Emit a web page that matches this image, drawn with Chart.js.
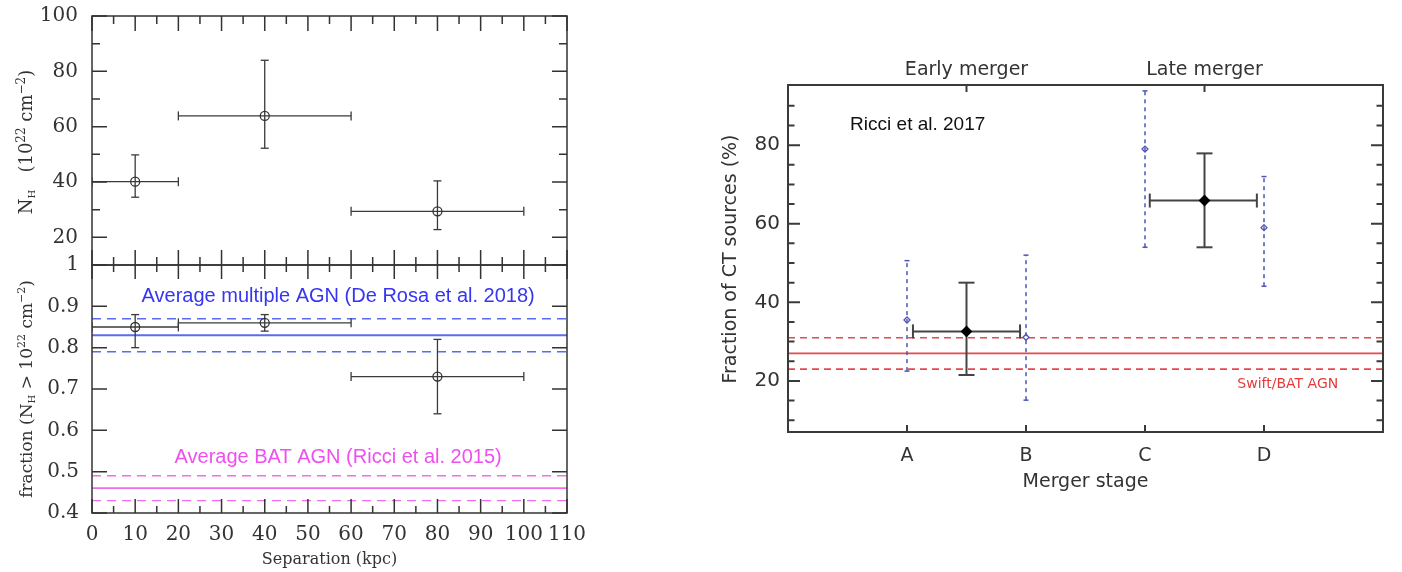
<!DOCTYPE html>
<html>
<head>
<meta charset="utf-8">
<script src="https://cdn.jsdelivr.net/npm/chart.js@4.4.1/dist/chart.umd.min.js"></script>
<style>
  body { margin: 0; background: #fff; }
  #wrap { position: relative; width: 1402px; height: 572px; overflow: hidden; }
  canvas { position: absolute; }
</style>
</head>
<body>
<div id="wrap">
  <canvas id="nh" width="600" height="309" style="left:0;top:-14px"></canvas>
  <canvas id="frac" width="600" height="347" style="left:0;top:225px"></canvas>
  <canvas id="merger" width="712" height="532" style="left:690px;top:40px"></canvas>
</div>
<script>
// separation bins (kpc)
const sepCentre = [10, 40, 80];
const sepLow = [0, 20, 60];
const sepHigh = [20, 60, 100];
// N_H in 1e22 cm^-2
const nhMean = [40.1, 63.9, 29.4];
const nhLow = [34.5, 52.2, 22.8];
const nhHigh = [49.8, 84.0, 40.4];
// fraction with N_H > 1e22
const fracMean = [0.85, 0.86, 0.73];
const fracLow = [0.80, 0.84, 0.64];
const fracHigh = [0.88, 0.88, 0.82];
// reference levels [lower, mean, upper]
const multipleAgn = [0.79, 0.83, 0.87];
const batAgn = [0.43, 0.46, 0.49];

const sepTicks = [0, 10, 20, 30, 40, 50, 60, 70, 80, 90, 100, 110];
const sepMinor = [5, 15, 25, 35, 45, 55, 65, 75, 85, 95, 105];
const nhTicks = [20, 40, 60, 80, 100];
const nhMinor = [30, 50, 70, 90];
const fracTicks = [0.4, 0.5, 0.6, 0.7, 0.8, 0.9, 1.0];
const fracTickLabels = ['0.4', '0.5', '0.6', '0.7', '0.8', '0.9', '1'];

// Ricci et al. 2017 merger stages
const stages = ['A', 'B', 'C', 'D'];
const stagePos = [1, 2, 3, 4];
const ctFrac = [35.5, 31.1, 79.0, 59.0];
const ctLow = [22.5, 15.1, 54.0, 44.1];
const ctHigh = [50.6, 52.0, 93.8, 72.0];
const groups = ['Early merger', 'Late merger'];
const groupPos = [1.5, 3.5];
const groupStart = [1.05, 3.04];
const groupEnd = [1.95, 3.94];
const groupFrac = [32.6, 65.9];
const groupLow = [21.5, 54.0];
const groupHigh = [45.0, 77.9];
const swiftBat = [23, 27, 31];
const ctTicks = [20, 40, 60, 80];
const ctMinor = [10, 15, 25, 30, 35, 45, 50, 55, 65, 70, 75, 85, 90];

function vBars(xs, lo, hi, st) {
  return xs.map((x, i) => ({
    data: [{x: x, y: lo[i]}, {x: x, y: hi[i]}],
    showLine: true, borderColor: st.color, borderWidth: st.width, borderDash: st.dash || [],
    pointStyle: 'line', pointRadius: st.cap, pointBorderColor: st.color, pointBorderWidth: st.width
  }));
}

function hBars(ys, lo, hi, st) {
  return ys.map((y, i) => ({
    data: [{x: lo[i], y: y}, {x: hi[i], y: y}],
    showLine: true, borderColor: st.color, borderWidth: st.width,
    pointStyle: 'line', pointRotation: 90, pointRadius: st.hcap, pointBorderColor: st.color, pointBorderWidth: st.width
  }));
}

function level(v, x0, x1, color, dash, width) {
  return {
    data: [{x: x0, y: v}, {x: x1, y: v}],
    showLine: true, borderColor: color, borderWidth: width, borderDash: dash, pointRadius: 0
  };
}

function markers(xs, ys, style, radius, fill, color) {
  return {
    data: xs.map((x, i) => ({x: x, y: ys[i]})),
    showLine: false, pointStyle: style, pointRadius: radius,
    pointBackgroundColor: fill, pointBorderColor: color, borderColor: color, pointBorderWidth: 1.3
  };
}

// frame, inward ticks and free text
const deco = {
  id: 'deco',
  afterDraw(chart, args, o) {
    const ctx = chart.ctx, a = chart.chartArea;
    const xs = chart.scales.x, ys = chart.scales.y;
    ctx.save();
    ctx.strokeStyle = o.color;
    ctx.lineWidth = o.width;
    (o.ticks || []).forEach(t => {
      t.values.forEach(v => {
        ctx.beginPath();
        if (t.axis === 'x') {
          const px = xs.getPixelForValue(v);
          if (t.bottom) { ctx.moveTo(px, a.bottom); ctx.lineTo(px, a.bottom - t.len); }
          if (t.top) { ctx.moveTo(px, a.top); ctx.lineTo(px, a.top + t.len); }
        } else {
          const py = ys.getPixelForValue(v);
          ctx.moveTo(a.left, py); ctx.lineTo(a.left + t.len, py);
          ctx.moveTo(a.right, py); ctx.lineTo(a.right - t.len, py);
        }
        ctx.stroke();
      });
    });
    ctx.strokeRect(a.left, a.top, a.right - a.left, a.bottom - a.top);

    (o.texts || []).forEach(t => {
      const px = t.x !== undefined ? xs.getPixelForValue(t.x) : t.px - o.left;
      const py = t.y !== undefined ? ys.getPixelForValue(t.y) : t.py - o.top;
      const segs = t.segs || [{text: t.text}];
      ctx.save();
      ctx.translate(px, py);
      if (t.rotate) ctx.rotate(-Math.PI / 2);
      ctx.fillStyle = t.color || '#333';
      ctx.textAlign = 'left';
      ctx.textBaseline = t.baseline || 'middle';
      let total = 0;
      segs.forEach(s => {
        ctx.font = (s.size || t.size) + 'px ' + t.family;
        s.w = ctx.measureText(s.text).width;
        total += s.w;
      });
      let cx = -total / 2;
      segs.forEach(s => {
        ctx.font = (s.size || t.size) + 'px ' + t.family;
        ctx.fillText(s.text, cx, s.dy || 0);
        cx += s.w;
      });
      ctx.restore();
    });
    ctx.restore();
  }
};

const serif = "'DejaVu Serif', serif";
const sans = "'DejaVu Sans', sans-serif";
const black = {color: '#3a3a3a', width: 1.3, cap: 4, hcap: 4.5};

const hidden = {legend: {display: false}, tooltip: {enabled: false}};

function yScale(min, max, vals, labels, width, pad, font) {
  return {
    type: 'linear', min: min, max: max,
    afterBuildTicks: s => { s.ticks = vals.map(v => ({value: v})); },
    afterFit: s => { s.width = width; },
    grid: {display: false, drawTicks: false}, border: {display: false},
    ticks: {
      padding: pad, color: '#333', font: font, autoSkip: false,
      callback: (v, i) => labels ? labels[i] : v
    }
  };
}

// top left: column density
new Chart(document.getElementById('nh'), {
  type: 'scatter',
  data: {
    datasets: [
      markers(sepCentre, nhMean, 'circle', 4.5, 'rgba(0,0,0,0)', '#333'),
      ...vBars(sepCentre, nhLow, nhHigh, black),
      ...hBars(nhMean, sepLow, sepHigh, black)
    ]
  },
  options: {
    responsive: false, animation: false, events: [],
    layout: {padding: {top: 30, bottom: 30, left: 0, right: 33}},
    scales: {
      x: {type: 'linear', min: 0, max: 110, display: false},
      y: yScale(10, 100, nhTicks, null, 92, 14, {family: serif, size: 20})
    },
    plugins: Object.assign({
      deco: {
        color: '#333', width: 1.5, left: 0, top: -14,
        ticks: [
          {axis: 'x', values: sepTicks, len: 15, top: true, bottom: true},
          {axis: 'x', values: sepMinor, len: 8, top: true, bottom: true},
          {axis: 'y', values: nhTicks, len: 15},
          {axis: 'y', values: nhMinor, len: 8}
        ],
        texts: [
          {px: 32, py: 142, rotate: true, baseline: 'alphabetic', family: serif, size: 18, color: '#333',
           segs: [{text: 'N'}, {text: 'H', size: 10, dy: 3}, {text: '   (10'}, {text: '22', size: 12, dy: -7},
                  {text: ' cm'}, {text: '\u22122', size: 12, dy: -7}, {text: ')'}]}
        ]
      }
    }, hidden)
  },
  plugins: [deco]
});

// bottom left: obscured fraction
new Chart(document.getElementById('frac'), {
  type: 'scatter',
  data: {
    datasets: [
      markers(sepCentre, fracMean, 'circle', 4.5, 'rgba(0,0,0,0)', '#333'),
      ...vBars(sepCentre, fracLow, fracHigh, black),
      ...hBars(fracMean, sepLow, sepHigh, black),
      level(multipleAgn[0], 0, 110, '#5a6af2', [9, 6], 1.4),
      level(multipleAgn[1], 0, 110, '#5a6af2', [], 1.8),
      level(multipleAgn[2], 0, 110, '#5a6af2', [9, 6], 1.4),
      level(batAgn[0], 0, 110, '#f06cf0', [9, 6], 1.4),
      level(batAgn[1], 0, 110, '#f06cf0', [], 1.8),
      level(batAgn[2], 0, 110, '#f06cf0', [9, 6], 1.4)
    ]
  },
  options: {
    responsive: false, animation: false, events: [],
    layout: {padding: {top: 40, bottom: 0, left: 0, right: 33}},
    scales: {
      x: {
        type: 'linear', min: 0, max: 110,
        afterBuildTicks: s => { s.ticks = sepTicks.map(v => ({value: v})); },
        afterFit: s => { s.height = 59; },
        grid: {display: false, drawTicks: false}, border: {display: false},
        ticks: {padding: 10, color: '#333', font: {family: serif, size: 20}, autoSkip: false, maxRotation: 0, minRotation: 0}
      },
      y: yScale(0.4, 1.0, fracTicks, fracTickLabels, 92, 13, {family: serif, size: 20})
    },
    plugins: Object.assign({
      deco: {
        color: '#333', width: 1.5, left: 0, top: 225,
        ticks: [
          {axis: 'x', values: sepTicks, len: 14, top: true, bottom: true},
          {axis: 'x', values: sepMinor, len: 7, top: true, bottom: true},
          {axis: 'y', values: fracTicks, len: 15}
        ],
        texts: [
          {x: 57, y: 0.925, text: 'Average multiple AGN (De Rosa et al. 2018)', family: "'Liberation Sans', Arial, sans-serif", size: 20, color: '#3535f2'},
          {x: 57, y: 0.5345, text: 'Average BAT AGN (Ricci et al. 2015)', family: "'Liberation Sans', Arial, sans-serif", size: 20, color: '#ef4fef'},
          {px: 329.5, py: 560, text: 'Separation (kpc)', family: serif, size: 16, color: '#333'},
          {px: 32, py: 389, rotate: true, baseline: 'alphabetic', family: serif, size: 17, color: '#333',
           segs: [{text: 'fraction (N'}, {text: 'H', size: 10, dy: 3}, {text: ' > 10'}, {text: '22', size: 11, dy: -7},
                  {text: ' cm'}, {text: '\u22122', size: 11, dy: -7}, {text: ')'}]}
        ]
      }
    }, hidden)
  },
  plugins: [deco]
});

// right: Compton-thick fraction by merger stage
new Chart(document.getElementById('merger'), {
  type: 'scatter',
  data: {
    datasets: [
      markers(groupPos, groupFrac, 'rectRot', 5, '#000', '#000'),
      markers(stagePos, ctFrac, 'rectRot', 3, 'rgba(0,0,0,0)', '#4d55b5'),
      ...vBars(groupPos, groupLow, groupHigh, {color: '#444', width: 2, cap: 8, hcap: 7}),
      ...hBars(groupFrac, groupStart, groupEnd, {color: '#444', width: 2, cap: 8, hcap: 7}),
      ...vBars(stagePos, ctLow, ctHigh, {color: '#4d55b5', width: 1.5, cap: 2.5, dash: [4, 4]}),
      level(swiftBat[0], 0, 5, '#e8474c', [7, 5], 1.6),
      level(swiftBat[1], 0, 5, '#e8474c', [], 1.6),
      level(swiftBat[2], 0, 5, '#e8474c', [7, 5], 1.6)
    ]
  },
  options: {
    responsive: false, animation: false, events: [],
    layout: {padding: {top: 45, bottom: 0, left: 0, right: 19}},
    scales: {
      x: {
        type: 'linear', min: 0, max: 5,
        afterBuildTicks: s => { s.ticks = stagePos.map(v => ({value: v})); },
        afterFit: s => { s.height = 140; },
        grid: {display: false, drawTicks: false}, border: {display: false},
        ticks: {padding: 13, color: '#333', font: {family: sans, size: 19}, autoSkip: false, maxRotation: 0,
                callback: (v, i) => stages[i]}
      },
      y: yScale(7, 95.3, ctTicks, null, 98, 8, {family: sans, size: 20})
    },
    plugins: Object.assign({
      deco: {
        color: '#3a3a3a', width: 2, left: 690, top: 40,
        ticks: [
          {axis: 'x', values: stagePos, len: 7, bottom: true},
          {axis: 'x', values: groupPos, len: 7, top: true},
          {axis: 'y', values: ctTicks, len: 12},
          {axis: 'y', values: ctMinor, len: 6.5}
        ],
        texts: [
          {x: groupPos[0], py: 70, text: groups[0], family: sans, size: 19, color: '#333'},
          {x: groupPos[1], py: 70, text: groups[1], family: sans, size: 19, color: '#333'},
          {x: 2.5, py: 482, text: 'Merger stage', family: sans, size: 19, color: '#333'},
          {px: 731, py: 259, rotate: true, text: 'Fraction of CT sources (%)', family: sans, size: 19, color: '#333'},
          {x: 1.09, y: 85.3, text: 'Ricci et al. 2017', family: "'Liberation Sans', Arial, sans-serif", size: 19, color: '#111'},
          {x: 4.2, y: 19.2, text: 'Swift/BAT AGN', family: sans, size: 14, color: '#e53b3b'}
        ]
      }
    }, hidden)
  },
  plugins: [deco]
});
</script>
</body>
</html>
